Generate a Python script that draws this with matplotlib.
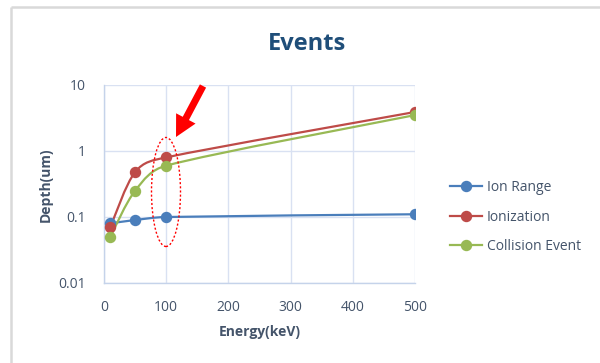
import numpy as np
import matplotlib
matplotlib.use("Agg")
import matplotlib.pyplot as plt
from matplotlib.path import Path
from matplotlib.patches import PathPatch, Ellipse, FancyArrow
from matplotlib.lines import Line2D
from matplotlib.ticker import FixedLocator, FixedFormatter

# Data
energy = [10, 50, 100, 500]
ion_range = [0.08, 0.09, 0.10, 0.11]
ionization = [0.07, 0.48, 0.80, 3.9]
collision_event = [0.05, 0.25, 0.60, 3.5]
series_names = ["Ion Range", "Ionization", "Collision Event"]
x_ticks = [0, 100, 200, 300, 400, 500]
y_ticks = [0.01, 0.1, 1, 10]
y_tick_labels = ["0.01", "0.1", "1", "10"]

colors = ["#4A7EBB", "#BE4B48", "#98B954"]
text_color = "#44546A"
grid_color = "#D9E1F2"
font = ["Open Sans", "DejaVu Sans"]

W, H = 600, 363
fig = plt.figure(figsize=(W / 100, H / 100), dpi=100)


def fx(px):
    return px / W


def fy(py):
    return 1 - py / H


ax = fig.add_axes([fx(104), fy(283), fx(415) - fx(104), fy(85) - fy(283)])
ax.set_yscale("log")
ax.set_xlim(0, 500)
ax.set_ylim(0.01, 10)


def smooth_path(axes, xs, ys):
    """Smoothed Bezier path through the points, built in display space."""
    trans = axes.transData
    p = trans.transform(np.column_stack([xs, ys]))
    n = len(p)
    tang, chord = [], []
    for i in range(n):
        t = p[min(i + 1, n - 1)] - p[max(i - 1, 0)]
        L = np.hypot(*t)
        tang.append(t / L)
        chord.append(L)
    verts = [p[0]]
    codes = [Path.MOVETO]
    for i in range(n - 1):
        seg = np.hypot(*(p[i + 1] - p[i]))
        h1 = min(chord[i] / 6, seg * 0.4)
        h2 = min(chord[i + 1] / 6, seg * 0.4)
        verts += [p[i] + tang[i] * h1, p[i + 1] - tang[i + 1] * h2, p[i + 1]]
        codes += [Path.CURVE4] * 3
    v = trans.inverted().transform(np.array(verts))
    return Path(v, codes)


for ys, c in zip([ion_range, ionization, collision_event], colors):
    ax.add_patch(PathPatch(smooth_path(ax, energy, ys), fill=False, edgecolor=c,
                           lw=1.6, zorder=3, capstyle="round"))
    ax.plot(energy, ys, ls="none", marker="o", ms=7.2, color=c, zorder=4)

ax.xaxis.set_major_locator(FixedLocator(x_ticks))
ax.yaxis.set_major_locator(FixedLocator(y_ticks))
ax.yaxis.set_major_formatter(FixedFormatter(y_tick_labels))
ax.yaxis.set_minor_locator(FixedLocator([]))
ax.grid(True, color=grid_color, lw=1.0)
ax.set_axisbelow(True)
for s in ["top", "right"]:
    ax.spines[s].set_visible(False)
for s in ["left", "bottom"]:
    ax.spines[s].set_color("#C5D3EA")
    ax.spines[s].set_linewidth(1.0)
ax.tick_params(length=0, labelsize=10, labelcolor=text_color)
ax.tick_params(axis="y", pad=13)
ax.tick_params(axis="x", pad=12)
for lab in ax.get_xticklabels() + ax.get_yticklabels():
    lab.set_family(font)

# Titles and axis labels
fig.text(fx(307), fy(44), "Events", ha="center", va="center", fontsize=17,
         fontweight="bold", color="#1F4E79", family=font)
fig.text(fx(46), fy(185), "Depth(um)", ha="center", va="center", rotation=90,
         fontsize=10, fontweight="bold", color=text_color, family=font)
fig.text(fx(260), fy(332), "Energy(keV)", ha="center", va="center",
         fontsize=10, fontweight="bold", color=text_color, family=font)

# Legend
handles = [Line2D([], [], color=c, lw=1.6, marker="o", ms=7.2) for c in colors]
leg = fig.legend(handles, series_names, loc="upper left",
                 bbox_to_anchor=(fx(450), fy(180)), frameon=False,
                 handlelength=2.3, handletextpad=0.35, labelspacing=1.05,
                 borderpad=0, borderaxespad=0, prop={"family": font, "size": 10})
for t in leg.get_texts():
    t.set_color(text_color)

# Highlight around the 100 keV points
ell = Ellipse((fx(166), fy(192)), fx(29), 109 / H, transform=fig.transFigure,
              fill=False, edgecolor="#FF0000", lw=1.0, ls=(0, (1.5, 1.5)), zorder=6)
fig.add_artist(ell)

# Pointer arrow (figure pixel coordinates)
tail = np.array([203.0, 86.0])
tip = np.array([176.0, 137.0])
d = tip - tail
overlay = fig.add_axes([0, 0, 1, 1], facecolor="none")
overlay.set_xlim(0, W)
overlay.set_ylim(H, 0)
overlay.axis("off")
overlay.add_patch(FancyArrow(tail[0], tail[1], d[0], d[1], width=7,
                             head_width=22, head_length=21,
                             length_includes_head=True, color="#FF0000", lw=0))

# Chart frame (top and left edges)
overlay.plot([10.5, W], [7, 7], color="#D9D9D9", lw=1.8, solid_capstyle="butt")
overlay.plot([10.5, 10.5], [7, H], color="#D9D9D9", lw=1.8, solid_capstyle="butt")

fig.savefig("out.png", dpi=100, facecolor="white")
